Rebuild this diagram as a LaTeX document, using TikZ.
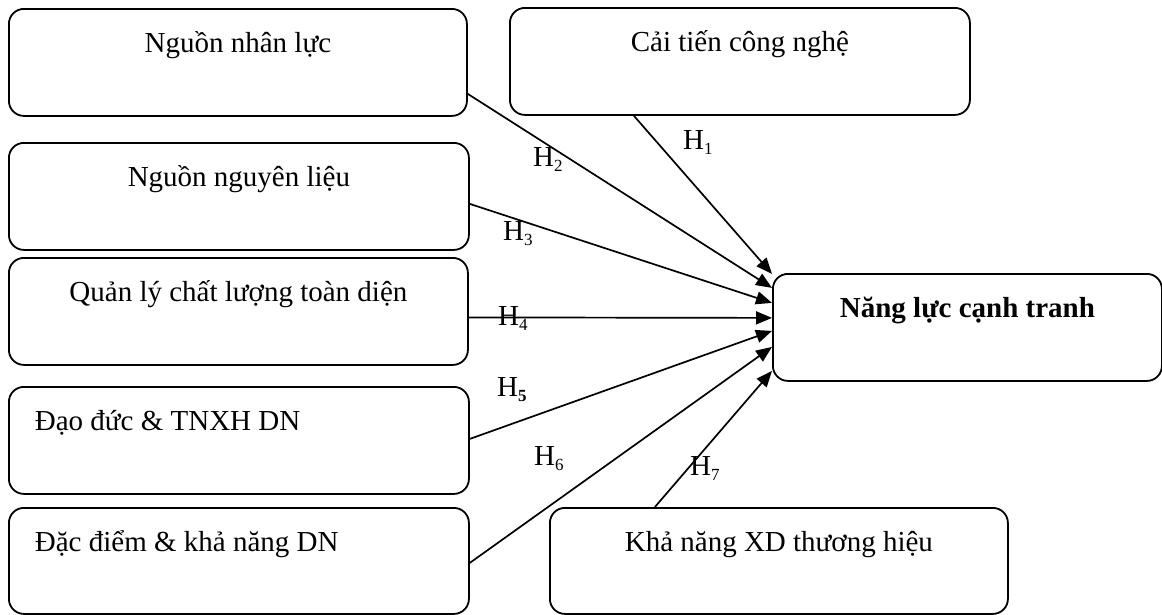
\documentclass[tikz,border=0pt]{standalone}
\usepackage{fontspec}
\setmainfont{Liberation Serif}
\usetikzlibrary{arrows.meta,positioning}
\newcommand{\hyp}[1]{H\raisebox{-5pt}{\fontsize{17}{17}\selectfont #1}}
\newcommand{\lbox}[1]{\makebox[408pt][l]{#1}}
\begin{document}
\begin{tikzpicture}[x=1pt,y=-1pt,
  boxc/.style={draw, line width=1.8pt, rounded corners=15pt, anchor=north west,
    inner xsep=0pt, inner ysep=0pt, text height=44pt, text depth=63pt,
    font=\fontsize{29}{34}\selectfont},
  boxl/.style={boxc, inner xsep=26pt},
  hyparrow/.style={line width=1.7pt, -{Triangle[length=16pt,width=13pt]}},
  hlab/.style={anchor=base west, inner sep=0pt, font=\fontsize{29}{34}\selectfont}]
\useasboundingbox (0,0) rectangle (1162,614);
% boxes
\node[boxc, minimum width=458pt] (n1) at (8,8) {Nguồn nhân lực};
\node[boxc, minimum width=460pt] (n2) at (8,142) {Nguồn nguyên liệu};
\node[boxc, minimum width=459pt] (n3) at (8,257) {Quản lý chất lượng toàn diện};
\node[boxl] (n4) at (8,386) {\lbox{Đạo đức \& TNXH DN}};
\node[boxl, text depth=62pt] (n5) at (8,507) {\lbox{Đặc điểm \& khả năng DN}};
\node[boxc, minimum width=460pt] (n0) at (509,7) {Cải tiến công nghệ};
\node[boxc, minimum width=458pt, text depth=62pt] (n7) at (549,507) {Khả năng XD thương hiệu};
\node[boxc, minimum width=389pt, font=\fontsize{29}{34}\selectfont\bfseries] (tgt) at (772,273) {Năng lực cạnh tranh};
% arrows
\draw[hyparrow] ([xshift=-106pt]n0.south) -- ([yshift=53.5pt]tgt.west);
\draw[hyparrow] ([yshift=-31.5pt]n1.east) -- ([yshift=39.5pt]tgt.west);
\draw[hyparrow] ([yshift=-7.5pt]n2.east) -- ([yshift=24.5pt]tgt.west);
\draw[hyparrow] ([yshift=-6pt]n3.east) -- ([yshift=9.5pt]tgt.west);
\draw[hyparrow] ([yshift=1.5pt]n4.east) -- ([yshift=-3.5pt]tgt.west);
\draw[hyparrow] ([yshift=-2pt]n5.east) -- ([yshift=-19.5pt]tgt.west);
\draw[hyparrow] ([xshift=-124pt]n7.north) -- ([yshift=-43.5pt]tgt.west);
% labels
\node[hlab] (h1) at (683,149) {\hyp{1}};
\node[hlab] (h2) at (533,166) {\hyp{2}};
\node[hlab] (h3) at (503,240) {\hyp{3}};
\node[hlab] (h4) at (498,325) {\hyp{4}};
\node[hlab] (h5) at (497,396) {\hyp{\textbf{5}}};
\node[hlab] (h6) at (534,465) {\hyp{6}};
\node[hlab] (h7) at (690,475) {\hyp{7}};
\end{tikzpicture}
\end{document}
